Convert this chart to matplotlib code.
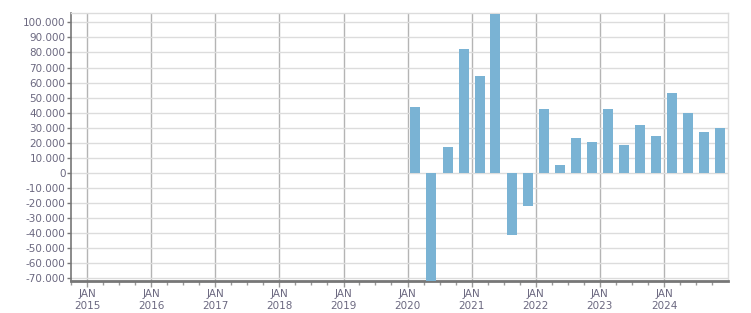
import matplotlib
matplotlib.use("Agg")
import matplotlib.pyplot as plt
import matplotlib.dates as mdates
from matplotlib.ticker import FuncFormatter, MultipleLocator
import datetime as dt

quarters = ["2020Q1", "2020Q2", "2020Q3", "2020Q4", "2021Q1", "2021Q2", "2021Q3", "2021Q4",
            "2022Q1", "2022Q2", "2022Q3", "2022Q4", "2023Q1", "2023Q2", "2023Q3", "2023Q4",
            "2024Q1", "2024Q2", "2024Q3", "2024Q4"]
values = [44000, -78000, 17500, 82000, 64500, 105800, -41000, -21700,
          42700, 5500, 23400, 20800, 42700, 18800, 32100, 24800,
          53300, 40000, 27400, 30100]
years = list(range(2015, 2025))

def q_mid(q):
    y = int(q[:4]); n = int(q[-1])
    start = dt.date(y, 3 * (n - 1) + 1, 1)
    end = dt.date(y + (n == 4), (3 * n) % 12 + 1, 1)
    return start + (end - start) / 2

xs = [q_mid(q) for q in quarters]

txt = "#6b6880"
fig = plt.figure(figsize=(7.51, 3.13), dpi=100)
ax = fig.add_axes([71 / 751, 32 / 313, 657 / 751, 268 / 313])

ax.bar(xs, values, width=57, color="#7ab3d4", zorder=3)

ax.set_xlim(dt.date(2014, 10, 1), dt.date(2024, 12, 31))
ax.set_ylim(-71800, 106200)

ax.yaxis.set_major_locator(MultipleLocator(10000))
ax.yaxis.set_major_formatter(FuncFormatter(lambda v, p: f"{int(round(v)):,}".replace(",", ".")))
ax.xaxis.set_major_locator(mdates.YearLocator())
ax.xaxis.set_major_formatter(FuncFormatter(lambda v, p: "JAN\n" + mdates.num2date(v).strftime("%Y")))
ax.xaxis.set_minor_locator(mdates.MonthLocator(bymonth=[4, 7, 10]))

ax.grid(axis="y", color="#dcdcdc", linewidth=1, zorder=0)
ax.grid(axis="x", which="major", color="#b4b4b4", linewidth=1, zorder=1)

for s in ["top", "right"]:
    ax.spines[s].set_color("#dcdcdc")
    ax.spines[s].set_linewidth(1)
ax.spines["left"].set_color("#777777")
ax.spines["left"].set_linewidth(1.2)
ax.spines["bottom"].set_color("#777777")
ax.spines["bottom"].set_linewidth(2)

ax.tick_params(axis="y", colors="#777777", labelcolor=txt, labelsize=7.5, length=3, width=1, pad=1)
ax.tick_params(axis="x", which="major", colors="#999999", labelcolor=txt, labelsize=7.5, length=4, width=1, pad=2)
ax.tick_params(axis="x", which="minor", colors="#999999", length=3, width=1)

fig.savefig("out.png", dpi=100)
